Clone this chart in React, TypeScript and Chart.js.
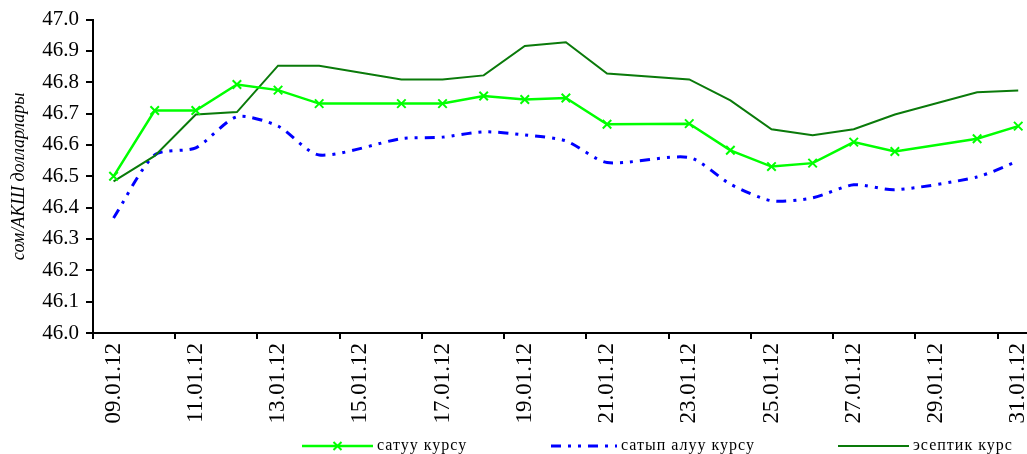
import React, { useEffect, useRef } from 'react';
import { Chart, registerables } from 'chart.js';

Chart.register(...registerables);

const categories = [
  '09.01.12', '10.01.12', '11.01.12', '12.01.12', '13.01.12', '14.01.12', '15.01.12', '16.01.12',
  '17.01.12', '18.01.12', '19.01.12', '20.01.12', '21.01.12', '22.01.12', '23.01.12', '24.01.12',
  '25.01.12', '26.01.12', '27.01.12', '28.01.12', '29.01.12', '30.01.12', '31.01.12',
];

const sellRate = [46.50, 46.71, 46.71, 46.793, 46.775, 46.732, null, 46.732, 46.732, 46.756, 46.745, 46.750, 46.666, null, 46.668, 46.583, 46.531, 46.542, 46.609, 46.579, null, 46.620, 46.660];
const buyRate = [46.367, 46.568, 46.591, 46.690, 46.660, 46.568, null, 46.620, 46.625, 46.642, 46.632, 46.613, 46.544, null, 46.560, 46.475, 46.422, 46.431, 46.473, 46.457, null, 46.498, 46.549];
const officialRate = [46.484, 46.565, 46.697, 46.705, 46.853, 46.853, null, 46.809, 46.809, 46.822, 46.916, 46.928, 46.828, null, 46.809, 46.742, 46.650, 46.631, 46.650, 46.697, null, 46.768, 46.774];

const seriesNames = ['сатуу курсу', 'сатып алуу курсу', 'эсептик курс'];
const yTitle = 'сом/АКШ долларлары';

const FONT = '"Liberation Serif", "Times New Roman", serif';
const SELL_COLOR = '#00FF00';
const BUY_COLOR = '#0000FF';
const OFFICIAL_COLOR = '#0A7A0A';
const BUY_DASH = [10, 7, 3, 7, 3, 7];

const legendPlugin = {
  id: 'customLegend',
  afterDraw(chart: any) {
    const ctx = chart.ctx;
    const y = 446;
    const items = [
      { label: seriesNames[0], color: SELL_COLOR, dash: [] as number[], width: 2.5, x0: 302, x1: 373, marker: true },
      { label: seriesNames[1], color: BUY_COLOR, dash: BUY_DASH, width: 3, x0: 551, x1: 617, marker: false },
      { label: seriesNames[2], color: OFFICIAL_COLOR, dash: [] as number[], width: 2, x0: 838, x1: 909, marker: false },
    ];
    ctx.save();
    for (const it of items) {
      ctx.beginPath();
      ctx.setLineDash(it.dash);
      ctx.strokeStyle = it.color;
      ctx.lineWidth = it.width;
      ctx.moveTo(it.x0, y);
      ctx.lineTo(it.x1, y);
      ctx.stroke();
      ctx.setLineDash([]);
      if (it.marker) {
        const cx = (it.x0 + it.x1) / 2;
        const r = 4;
        ctx.beginPath();
        ctx.lineWidth = 2;
        ctx.moveTo(cx - r, y - r);
        ctx.lineTo(cx + r, y + r);
        ctx.moveTo(cx + r, y - r);
        ctx.lineTo(cx - r, y + r);
        ctx.stroke();
      }
      ctx.fillStyle = '#000';
      ctx.font = `16px ${FONT}`;
      (ctx as any).letterSpacing = '1px';
      ctx.textAlign = 'left';
      ctx.textBaseline = 'middle';
      ctx.fillText(it.label, it.x1 + 4, y);
    }
    ctx.restore();
  },
};

export default function App() {
  const canvasRef = useRef<HTMLCanvasElement | null>(null);

  useEffect(() => {
    if (!canvasRef.current) return;
    const chart = new Chart(canvasRef.current, {
      type: 'line',
      data: {
        labels: categories,
        datasets: [
          {
            label: seriesNames[0],
            data: sellRate,
            borderColor: SELL_COLOR,
            backgroundColor: SELL_COLOR,
            borderWidth: 2.5,
            pointStyle: 'crossRot',
            pointRadius: 6,
            pointBorderWidth: 2,
            pointBorderColor: SELL_COLOR,
            spanGaps: true,
            tension: 0,
            order: 1,
          },
          {
            label: seriesNames[1],
            data: buyRate,
            borderColor: BUY_COLOR,
            backgroundColor: BUY_COLOR,
            borderWidth: 3,
            borderDash: BUY_DASH,
            pointRadius: 0,
            spanGaps: true,
            tension: 0.25,
            order: 3,
          },
          {
            label: seriesNames[2],
            data: officialRate,
            borderColor: OFFICIAL_COLOR,
            backgroundColor: OFFICIAL_COLOR,
            borderWidth: 2,
            pointRadius: 0,
            spanGaps: true,
            tension: 0,
            order: 2,
          },
        ],
      },
      options: {
        responsive: false,
        animation: false,
        devicePixelRatio: 1,
        layout: { padding: { left: 0, right: 6, top: 18, bottom: 21 } },
        plugins: {
          legend: { display: false },
          tooltip: { enabled: false },
        },
        scales: {
          x: {
            type: 'category',
            offset: true,
            border: { display: true, color: '#000', width: 2 },
            grid: {
              offset: true,
              drawOnChartArea: false,
              drawTicks: true,
              tickLength: 6,
              lineWidth: 2,
              color: (c: any) => (c.index % 2 === 0 ? '#000' : 'rgba(0,0,0,0)'),
            },
            ticks: {
              autoSkip: false,
              maxRotation: 90,
              minRotation: 90,
              padding: 4,
              color: '#000',
              font: { family: FONT, size: 23 },
              callback: (_v: any, i: number) => (i % 2 === 0 ? categories[i] : ''),
            },
            afterFit: (scale: any) => {
              scale.height = 100;
            },
          },
          y: {
            min: 46,
            max: 47,
            border: { display: true, color: '#000', width: 2 },
            grid: {
              drawOnChartArea: false,
              drawTicks: true,
              tickLength: 7,
              lineWidth: 2,
              color: '#000',
            },
            ticks: {
              stepSize: 0.1,
              padding: 7,
              color: '#000',
              font: { family: FONT, size: 21 },
              callback: (v: any) => Number(v).toFixed(1),
            },
            title: {
              display: true,
              text: yTitle,
              color: '#000',
              font: { family: FONT, size: 18, style: 'italic' },
              padding: { top: 8, bottom: 0 },
            },
            afterFit: (scale: any) => {
              scale.width = 93;
            },
          },
        },
      },
      plugins: [legendPlugin],
    } as any);
    return () => chart.destroy();
  }, []);

  return (
    <div
      style={{
        position: 'fixed',
        left: 0,
        top: 0,
        width: 1027,
        height: 454,
        overflow: 'hidden',
        background: '#fff',
      }}
    >
      <canvas ref={canvasRef} width={1050} height={454} style={{ width: 1050, height: 454 }} />
    </div>
  );
}
